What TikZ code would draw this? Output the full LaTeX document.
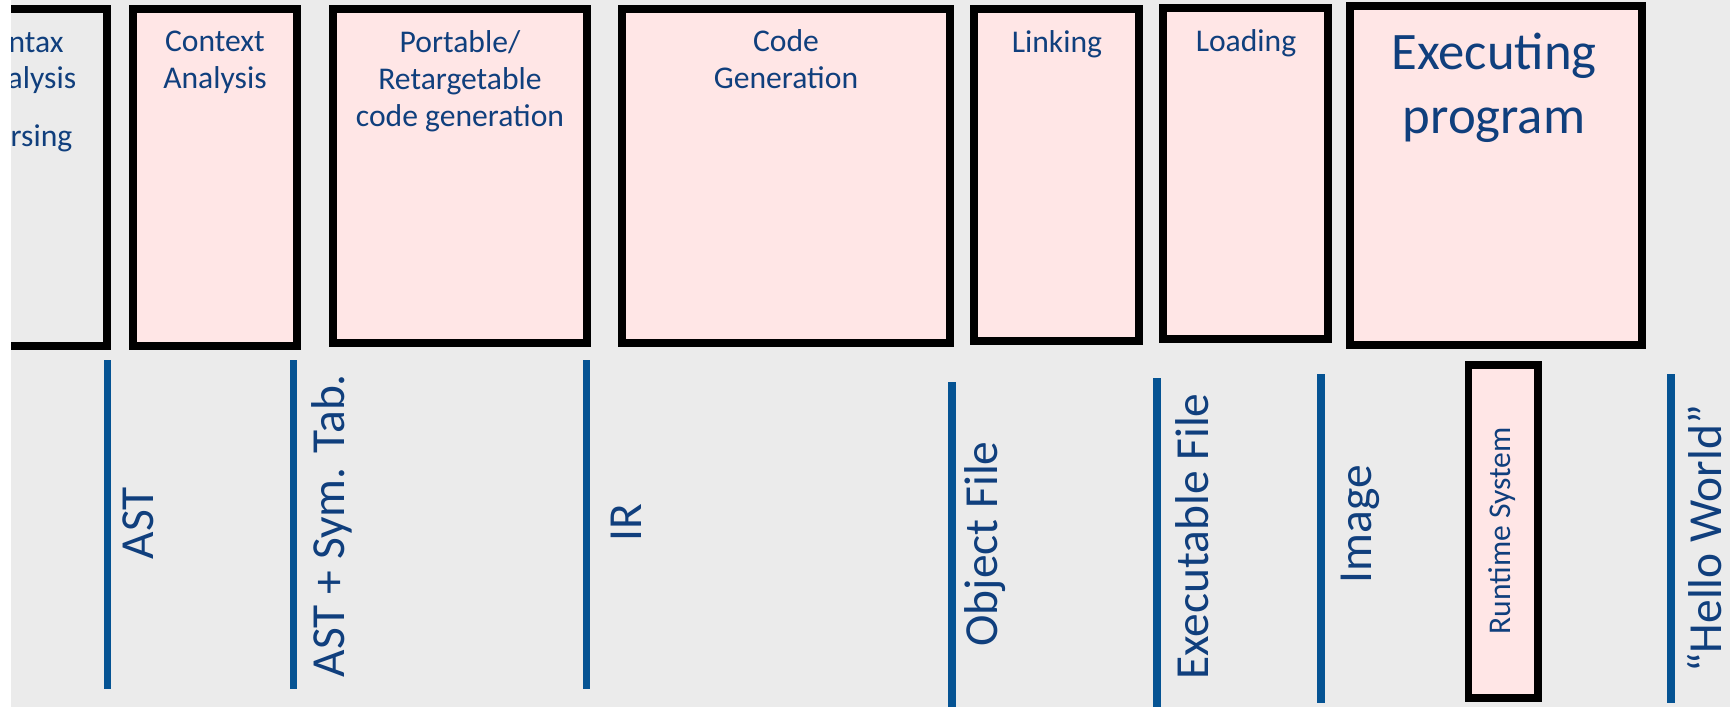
\documentclass[tikz,border=0pt]{standalone}
\usepackage{fontspec}
\setmainfont{Carlito}
\definecolor{bggray}{RGB}{235,235,235}
\definecolor{stgpink}{RGB}{255,230,230}
\definecolor{txtblue}{RGB}{16,63,125}
\definecolor{lnblue}{RGB}{5,83,147}
\tikzset{
  stg/.style={draw=black, fill=stgpink, line width=4.5pt},
  stgtxt/.style={text=txtblue, align=center, inner sep=0pt, anchor=base,
                 font=\fontsize{18}{20.8}\selectfont},
  bigtxt/.style={stgtxt, font=\fontsize{30}{36.4}\selectfont},
  repline/.style={lnblue, line width=4.5pt},
  reptxt/.style={text=txtblue, inner sep=0pt, anchor=base, rotate=90,
                 font=\fontsize{27}{32}\selectfont},
}

\begin{document}
\begin{tikzpicture}[x=0.02cm, y=-0.02cm]
  \useasboundingbox (0,0) rectangle (1730,707);
  \fill[bggray] (11,0) rectangle (1730,707);

  % phases (base anchor = last line)
  \begin{scope}
    \clip (11,0) rectangle (1730,707);
    \draw[stg, fill=bggray] (-60,9) rectangle (107,346);
    \node[stgtxt, anchor=base east] (syn1) at (64,52) {ntax};
    \node[stgtxt, anchor=base east] (syn2) at (76.5,88) {alysis};
    \node[stgtxt, anchor=base east] (pars) at (72.7,146) {rsing};
  \end{scope}
  \draw[stg] (133,9) rectangle (297,346);
  \node[stgtxt] (ctx) at (215,88) {Context\\Analysis};
  \draw[stg] (333,9) rectangle (587,343);
  \node[stgtxt] (port) at (460,126) {Portable/\\Retargetable\\code generation};
  \draw[stg] (622,9) rectangle (950,343);
  \node[stgtxt] (cgen) at (786,88) {Code\\Generation};
  \draw[stg] (974,9) rectangle (1139,341);
  \node[stgtxt] (link) at (1057,52) {Linking};
  \draw[stg] (1163,8) rectangle (1328,339);
  \node[stgtxt] (load) at (1246,51) {Loading};
  \draw[stg] (1350,6) rectangle (1642,345);
  \node[bigtxt] (exec) at (1494,133) {Executing\\program};

  % representations
  \draw[repline] (107.5,360) -- (107.5,689);
  \node[reptxt] (ast) at (153,523) {AST};
  \draw[repline] (293.5,360) -- (293.5,689);
  \node[reptxt] (astsym) at (344.5,525.5) {AST + Sym. Tab.};
  \draw[repline] (586.5,360) -- (586.5,689);
  \node[reptxt] (ir) at (641,523) {IR};
  \draw[repline] (952,382) -- (952,707);
  \node[reptxt] (obj) at (997,544) {Object File};
  \draw[repline] (1157,378) -- (1157,707);
  \node[reptxt] (exe) at (1208,536.5) {Executable File};
  \draw[repline] (1321,374) -- (1321,703);
  \node[reptxt] (img) at (1371,524) {Image};
  \draw[stg] (1468.5,365) rectangle (1538,698);
  \node[stgtxt, rotate=90] (rts) at (1510.7,531) {Runtime System};
  \draw[repline] (1671,374) -- (1671,703);
  \node[reptxt] (hello) at (1721,539) {“Hello World”};
\end{tikzpicture}
\end{document}
